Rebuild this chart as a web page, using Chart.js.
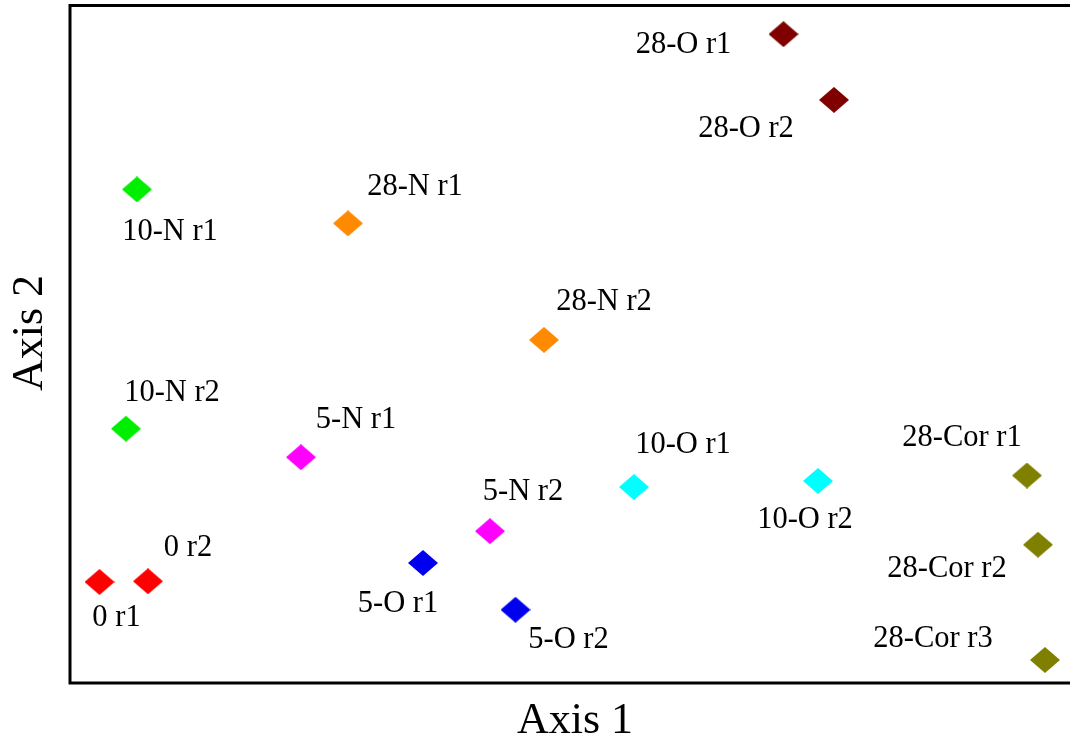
<!DOCTYPE html>
<html>
<head>
<meta charset="utf-8">
<title>Axis 1 / Axis 2</title>
<script src="https://cdn.jsdelivr.net/npm/chart.js@4/dist/chart.umd.min.js"></script>
<style>
  html, body { margin: 0; padding: 0; background: #fff; }
  canvas { display: block; }
</style>
</head>
<body>
<canvas id="ordChart" width="1070" height="742"></canvas>
<script>
// sample names and ordination scores
const samples = ['0 r1', '0 r2', '10-N r1', '10-N r2', '28-N r1', '28-N r2',
  '5-N r1', '5-N r2', '5-O r1', '5-O r2', '10-O r1', '10-O r2',
  '28-O r1', '28-O r2', '28-Cor r1', '28-Cor r2', '28-Cor r3'];
const groups = ['0', '0', '10-N', '10-N', '28-N', '28-N',
  '5-N', '5-N', '5-O', '5-O', '10-O', '10-O',
  '28-O', '28-O', '28-Cor', '28-Cor', '28-Cor'];
const axis1 = [2.95, 7.8, 6.7, 5.6, 27.8, 47.4, 23.1, 42.0, 35.3, 44.55,
  56.4, 74.8, 71.35, 76.4, 95.7, 96.8, 97.5];
const axis2 = [14.9, 15.0, 72.8, 37.5, 67.8, 50.6, 33.3, 22.4, 17.7, 10.8,
  28.9, 29.8, 95.7, 86.0, 30.6, 20.4, 3.4];

const groupOrder = ['0', '10-N', '28-N', '5-N', '5-O', '10-O', '28-O', '28-Cor'];
const groupColors = ['#ff0000', '#00ee00', '#ff8a00', '#ff00ff', '#0000ee',
  '#00ffff', '#800000', '#808000'];

// label offsets from the marker (text centre), per sample
const labelOffsets = [[17, 34], [40, -35], [33, 41], [46, -38], [67, -38], [60, -40],
  [55, -39], [33, -41], [-25, 39], [53, 28], [49, -44], [-13, 37],
  [-100, 9], [-88, 27], [-65, -40], [-91, 22], [-112, -23]];

// flattened diamond marker
function diamond(color) {
  const c = document.createElement('canvas');
  c.width = 30; c.height = 26;
  const g = c.getContext('2d');
  g.fillStyle = color;
  g.beginPath();
  g.moveTo(15, 0); g.lineTo(30, 13); g.lineTo(15, 26); g.lineTo(0, 13);
  g.closePath();
  g.fill();
  return c;
}

const datasets = groupOrder.map((grp, gi) => {
  const pts = [];
  samples.forEach((s, i) => {
    if (groups[i] === grp) pts.push({ x: axis1[i], y: axis2[i], name: s, idx: i });
  });
  return {
    label: grp,
    data: pts,
    pointStyle: diamond(groupColors[gi]),
    backgroundColor: groupColors[gi],
    borderWidth: 0
  };
});

const SERIF = '"Liberation Serif", "Times New Roman", serif';

const framePlugin = {
  id: 'frame',
  beforeDatasetsDraw(chart) {
    const { ctx, chartArea: a } = chart;
    ctx.save();
    ctx.strokeStyle = '#000';
    ctx.lineWidth = 3;
    ctx.strokeRect(a.left, a.top + 0.5, a.right - a.left + 20, a.bottom - a.top - 0.5);
    ctx.fillStyle = '#000';
    ctx.font = '44px ' + SERIF;
    ctx.textAlign = 'center';
    ctx.textBaseline = 'alphabetic';
    ctx.fillText('Axis 1', 575, 733);
    ctx.translate(42, 333);
    ctx.rotate(-Math.PI / 2);
    ctx.fillText('Axis 2', 0, 0);
    ctx.restore();
  }
};

const labelPlugin = {
  id: 'pointLabels',
  afterDatasetsDraw(chart) {
    const ctx = chart.ctx;
    ctx.save();
    ctx.fillStyle = '#000';
    ctx.font = '30.5px ' + SERIF;
    ctx.textAlign = 'center';
    ctx.textBaseline = 'alphabetic';
    chart.data.datasets.forEach((ds, di) => {
      chart.getDatasetMeta(di).data.forEach((el, j) => {
        const p = ds.data[j];
        const off = labelOffsets[p.idx];
        ctx.fillText(p.name, el.x + off[0], el.y + off[1] + 10);
      });
    });
    ctx.restore();
  }
};

new Chart(document.getElementById('ordChart'), {
  type: 'scatter',
  data: { datasets: datasets },
  options: {
    responsive: false,
    animation: false,
    devicePixelRatio: 1,
    layout: { padding: { left: 70, top: 5, right: 0, bottom: 59 } },
    plugins: {
      legend: { display: false },
      tooltip: { enabled: false }
    },
    scales: {
      x: { type: 'linear', min: 0, max: 99.6, display: false },
      y: { type: 'linear', min: 0, max: 100, display: false }
    }
  },
  plugins: [framePlugin, labelPlugin]
});
</script>
</body>
</html>
